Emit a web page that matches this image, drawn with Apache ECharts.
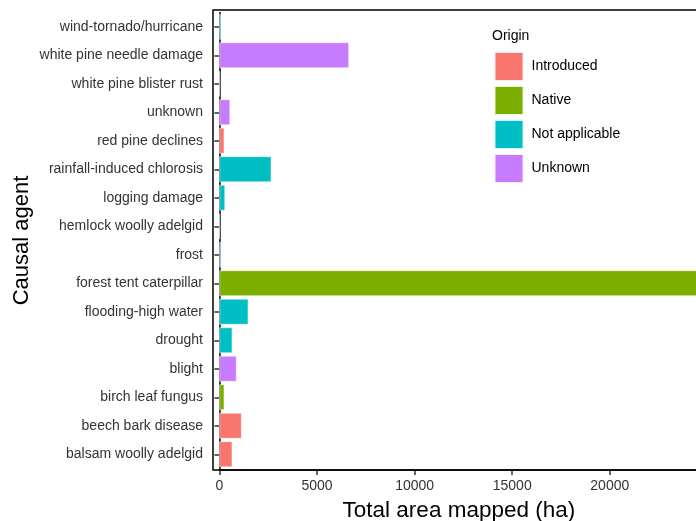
<!DOCTYPE html>
<html>
<head>
<meta charset="utf-8">
<script src="https://cdn.jsdelivr.net/npm/echarts@6/dist/echarts.min.js"></script>
<style>
html,body{margin:0;padding:0;background:#fff;}
#chart{width:696px;height:521px;}
</style>
</head>
<body>
<div id="chart"></div>
<script>
// Data (top to bottom as in the reference)
var categories = [
  'wind-tornado/hurricane', 'white pine needle damage', 'white pine blister rust', 'unknown',
  'red pine declines', 'rainfall-induced chlorosis', 'logging damage', 'hemlock woolly adelgid',
  'frost', 'forest tent caterpillar', 'flooding-high water', 'drought', 'blight',
  'birch leaf fungus', 'beech bark disease', 'balsam woolly adelgid'
];
var origins = [
  'Not applicable', 'Unknown', 'Introduced', 'Unknown',
  'Introduced', 'Not applicable', 'Not applicable', 'Introduced',
  'Not applicable', 'Native', 'Not applicable', 'Not applicable', 'Unknown',
  'Native', 'Introduced', 'Introduced'
];
var areas = [
  80, 6640, 20, 550,
  250, 2660, 290, 20,
  80, 24900, 1480, 660, 880,
  250, 1140, 660
];
var originLevels = ['Introduced', 'Native', 'Not applicable', 'Unknown'];
var originColors = ['#F8766D', '#7CAE00', '#00BFC4', '#C77CFF'];
var xTicks = { min: 0, max: 25000, interval: 5000 };

var FONT = '"Liberation Sans", Arial, sans-serif';

var series = originLevels.map(function (lvl, i) {
  return {
    name: lvl,
    type: 'bar',
    stack: 'all',
    barWidth: '90%',
    itemStyle: { color: originColors[i], borderColor: 'rgba(255,255,255,0.85)', borderWidth: 0.6 },
    emphasis: { disabled: true },
    data: categories.map(function (c, k) { return origins[k] === lvl ? areas[k] : '-'; })
  };
});

var chart = echarts.init(document.getElementById('chart'), null, { renderer: 'canvas' });
chart.setOption({
  animation: false,
  backgroundColor: '#ffffff',
  textStyle: { fontFamily: FONT },
  title: {
    text: 'Origin', left: 492, top: 29, padding: 0,
    textStyle: { fontFamily: FONT, fontSize: 14, fontWeight: 'normal', color: '#000' }
  },
  legend: {
    orient: 'vertical', left: 493.5, top: 51, padding: 0,
    itemWidth: 29, itemHeight: 29, itemGap: 3, icon: 'rect',
    data: originLevels,
    textStyle: { fontFamily: FONT, fontSize: 14, color: '#000', padding: [0, 0, 0, 3] }
  },
  grid: { left: 219.4, right: -11.4, top: 12.5, bottom: 52.5, containLabel: false, outerBoundsMode: 'none' },
  xAxis: {
    type: 'value',
    min: xTicks.min, max: xTicks.max, interval: xTicks.interval,
    offset: 1.5,
    name: 'Total area mapped (ha)', nameLocation: 'middle', nameGap: 29,
    nameMoveOverlap: false,
    nameTextStyle: { fontFamily: FONT, fontSize: 22.5, color: '#000', padding: [0, 9, 0, 0] },
    axisLine: { show: true, lineStyle: { color: '#000', width: 1.5 } },
    axisTick: { show: true, length: 5, lineStyle: { color: '#333', width: 1.5 } },
    axisLabel: { margin: 9, fontFamily: FONT, fontSize: 14, color: '#333', showMaxLabel: false,
      formatter: function (v) { return String(v); } },
    splitLine: { show: false }
  },
  yAxis: {
    type: 'category', inverse: true, data: categories,
    offset: 6.4,
    name: 'Causal agent', nameLocation: 'middle', nameGap: 180,
    nameMoveOverlap: false,
    nameTextStyle: { fontFamily: FONT, fontSize: 22, color: '#000' },
    axisLine: { show: true, lineStyle: { color: '#000', width: 1.5 } },
    axisTick: { show: true, alignWithLabel: true, length: 5, lineStyle: { color: '#333', width: 1.5 } },
    axisLabel: { margin: 10, fontFamily: FONT, fontSize: 14, color: '#333' },
    splitLine: { show: false }
  },
  graphic: [{
    type: 'polyline', silent: true, z: 100,
    shape: { points: [[700, 10], [213, 10], [213, 470], [700, 470]] },
    style: { stroke: '#000', lineWidth: 1.5, fill: null }
  }],
  series: series
});
</script>
</body>
</html>
